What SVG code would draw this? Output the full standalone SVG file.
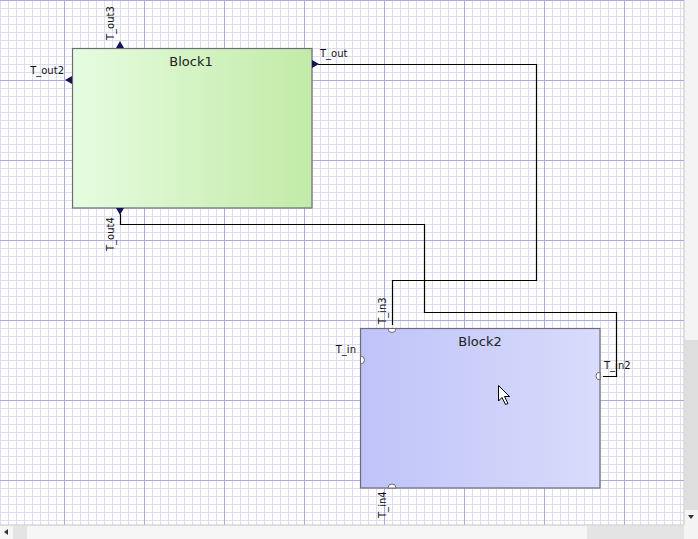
<svg xmlns="http://www.w3.org/2000/svg" width="698" height="539" viewBox="0 0 698 539">
<defs>
<pattern id="minor" patternUnits="userSpaceOnUse" width="8" height="8" x="0" y="0">
<rect x="0" y="0" width="1" height="8" fill="#dcdcf6"/>
<rect x="0" y="0" width="8" height="1" fill="#dcdcf6"/>
</pattern>
<pattern id="major" patternUnits="userSpaceOnUse" width="80" height="80" x="64" y="0">
<rect x="0" y="0" width="1" height="80" fill="#ababe2"/>
<rect x="0" y="0" width="80" height="1" fill="#ababe2"/>
</pattern>
<linearGradient id="g1" x1="0" y1="0" x2="1" y2="0">
<stop offset="0" stop-color="#e6fce0"/>
<stop offset="1" stop-color="#c2eba8"/>
</linearGradient>
<linearGradient id="g2" x1="0" y1="0" x2="1" y2="0">
<stop offset="0" stop-color="#bfc3f8"/>
<stop offset="1" stop-color="#d9dcfb"/>
</linearGradient>
<style>
.blk{stroke:#6c6c78;stroke-width:1.2}
.title{font-family:"DejaVu Sans",sans-serif;font-size:13px;fill:#222;text-anchor:middle}
.lbl{font-family:"DejaVu Sans",sans-serif;font-size:10px;fill:#111}
.out{fill:#14145a}
.in{fill:#ffffff;stroke:#6c6c78;stroke-width:1}
.wire{fill:none;stroke:#000;stroke-width:1.2}
</style>
</defs>
<rect width="698" height="539" fill="#ffffff"/>
<rect width="698" height="539" fill="url(#minor)"/>
<rect width="698" height="539" fill="url(#major)"/>

<g id="connectors">
<path class="wire" d="M318 64.5 H536.5 V280.5 H392.5 V325"/>
<path class="wire" d="M120.5 214 V224.5 H424.5 V312.5 H616.5 V376.5 H603"/>
</g>

<g id="Block1">
<rect class="blk" x="72.5" y="48.5" width="239.5" height="159.5" fill="url(#g1)"/>
<text class="title" x="191" y="66">Block1</text>
<polygon class="out" points="116,48 124,48 120,41"/>
<polygon class="out" points="72,76 72,84 65,80"/>
<polygon class="out" points="312,60 312,68 319,64"/>
<polygon class="out" points="116,208 124,208 120,215"/>
<text class="lbl" x="114" y="40" transform="rotate(-90 114 40)">T_out3</text>
<text class="lbl" x="64" y="74" text-anchor="end">T_out2</text>
<text class="lbl" x="320" y="57">T_out</text>
<text class="lbl" x="114" y="251" transform="rotate(-90 114 251)">T_out4</text>
</g>

<g id="Block2">
<rect class="blk" x="360.5" y="328.5" width="239.5" height="159.5" fill="url(#g2)"/>
<text class="title" x="480" y="346">Block2</text>
<path class="in" d="M388 328.5 A4 4 0 0 0 396 328.5 Z"/>
<path class="in" d="M360.5 356 A4 4 0 0 1 360.5 364 Z"/>
<path class="in" d="M600 372 A4 4 0 0 0 600 380 Z"/>
<path class="in" d="M388 488 A4 4 0 0 1 396 488 Z"/>
<text class="lbl" x="386" y="324" transform="rotate(-90 386 324)">T_in3</text>
<text class="lbl" x="356" y="353" text-anchor="end">T_in</text>
<text class="lbl" x="604" y="369">T_in2</text>
<text class="lbl" x="386" y="518" transform="rotate(-90 386 518)">T_in4</text>
</g>

<g id="cursor">
<polygon points="498.5,385.5 498.5,401 502,397.5 505.5,404.5 508,403.5 504.5,396.5 509.5,396.5" fill="#ffffff" stroke="#000" stroke-width="1"/>
</g>

<g id="scrollbars">
<rect x="0" y="525" width="698" height="14" fill="#f6f6f6"/>
<rect x="0" y="524.5" width="684" height="1" fill="#c4c4c4"/>
<rect x="13" y="526" width="14" height="13" fill="#e4e4e4"/>
<rect x="587" y="526" width="97" height="13" fill="#e4e4e4"/>
<polygon points="8,529 8,535 4,532" fill="#333"/>
<polygon points="688,529 688,535 692,532" fill="#333"/>
<rect x="684" y="0" width="14" height="539" fill="#f4f4f4"/>
<rect x="683.5" y="0" width="1" height="525" fill="#c4c4c4"/>
<rect x="685" y="340" width="13" height="170" fill="#dedede"/>
<polygon points="688,515 694,515 691,519" fill="#333"/>
</g>
</svg>
